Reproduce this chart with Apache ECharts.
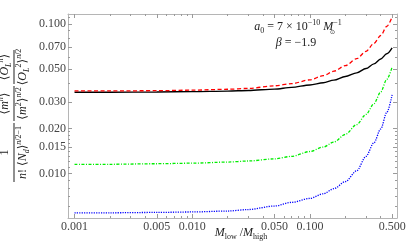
<!DOCTYPE html>
<html>
<head>
<meta charset="utf-8">
<script src="https://cdn.jsdelivr.net/npm/echarts@6/dist/echarts.min.js"></script>
<style>
html,body{margin:0;padding:0;background:#fff;}
#chart{width:407px;height:250px;}
</style>
</head>
<body>
<div id="chart"></div>
<script>
// ---- data ----
const xValues = [0.001, 0.002, 0.005, 0.01, 0.02, 0.03, 0.05, 0.07, 0.1, 0.13, 0.16, 0.2, 0.25, 0.3, 0.35, 0.4, 0.45, 0.5];
const blackSolid = [0.0349, 0.0349, 0.0350, 0.0352, 0.0355, 0.0358, 0.0366, 0.0376, 0.0390, 0.0404, 0.0420, 0.0444, 0.0470, 0.0502, 0.0540, 0.0582, 0.0630, 0.0690];
const redDashed = [0.0356, 0.0356, 0.0357, 0.0360, 0.0365, 0.0370, 0.0385, 0.0398, 0.0422, 0.0450, 0.0482, 0.0525, 0.0585, 0.0655, 0.0740, 0.0835, 0.0960, 0.1110];
const greenDotDashed = [0.0115, 0.0115, 0.0116, 0.0117, 0.0119, 0.0121, 0.0125, 0.0130, 0.0140, 0.0150, 0.0162, 0.0182, 0.0212, 0.0248, 0.0292, 0.0350, 0.0425, 0.0515];
const blueDotted = [0.00544, 0.00545, 0.00548, 0.00552, 0.00560, 0.00573, 0.00605, 0.00640, 0.00680, 0.00730, 0.00790, 0.00880, 0.01040, 0.01300, 0.01600, 0.01980, 0.02550, 0.03350];

const xMajorTicks = [0.001, 0.005, 0.01, 0.05, 0.1, 0.5];
const xMinorTicks = [0.002, 0.003, 0.004, 0.006, 0.007, 0.008, 0.009, 0.02, 0.03, 0.04, 0.06, 0.07, 0.08, 0.09, 0.2, 0.3, 0.4];
const yMajorTicks = [0.01, 0.015, 0.02, 0.03, 0.05, 0.07, 0.1];
const yMinorTicks = [0.006, 0.007, 0.008, 0.009, 0.011, 0.012, 0.013, 0.014, 0.016, 0.017, 0.018, 0.019, 0.04, 0.06, 0.08, 0.09, 0.11];

const xMin = 0.00088, xMax = 0.55;
const yMin = 0.00503, yMax = 0.1163;

const SERIF = '"Liberation Serif", "DejaVu Serif", serif';
const FRAME = '#b5b5b5';
const TICK = '#9a9a9a';
const LABEL = '#444';

function pairs(ys) { return xValues.map((x, i) => [x, ys[i]]); }

function xAxisDef(pos, ticks, len, labels, line) {
  return {
    type: 'log', logBase: 10, min: xMin, max: xMax, position: pos, gridIndex: 0,
    axisLine: { show: line, onZero: false, lineStyle: { color: FRAME, width: 1 } },
    axisTick: { show: true, inside: true, length: len, customValues: ticks, lineStyle: { color: TICK, width: 1 } },
    axisLabel: labels ? { show: true, customValues: ticks, formatter: v => Number(v).toFixed(3), margin: 3,
      fontFamily: SERIF, fontSize: 12, color: LABEL } : { show: false },
    splitLine: { show: false }, minorTick: { show: false }
  };
}
function yAxisDef(pos, ticks, len, labels, line) {
  return {
    type: 'log', logBase: 10, min: yMin, max: yMax, position: pos, gridIndex: 0,
    axisLine: { show: line, onZero: false, lineStyle: { color: FRAME, width: 1 } },
    axisTick: { show: true, inside: true, length: len, customValues: ticks, lineStyle: { color: TICK, width: 1 } },
    axisLabel: labels ? { show: true, customValues: ticks, formatter: v => Number(v).toFixed(3), margin: 2,
      fontFamily: SERIF, fontSize: 12, color: LABEL } : { show: false },
    splitLine: { show: false }, minorTick: { show: false }
  };
}

const chart = echarts.init(document.getElementById('chart'), null, { renderer: 'canvas' });

const mathRich = {
  i: { fontFamily: SERIF, fontSize: 12, fontStyle: 'italic', lineHeight: 16, verticalAlign: 'middle' },
  r: { fontFamily: SERIF, fontSize: 12, lineHeight: 16, verticalAlign: 'middle' },
  sup: { fontFamily: SERIF, fontSize: 8, fontStyle: 'italic', lineHeight: 9, verticalAlign: 'top' },
  supr: { fontFamily: SERIF, fontSize: 8, lineHeight: 9, verticalAlign: 'top' },
  sub: { fontFamily: SERIF, fontSize: 8, fontStyle: 'italic', lineHeight: 9, verticalAlign: 'bottom' },
  subr: { fontFamily: SERIF, fontSize: 8, lineHeight: 9, verticalAlign: 'bottom' }
};
function mtext(x, y, text, align, valign, extra) {
  return Object.assign({
    type: 'text', x: x, y: y,
    style: { text: text, rich: mathRich, fontFamily: SERIF, fontSize: 12, fill: '#222', align: align, verticalAlign: valign }
  }, extra || {});
}
function bar(x0, x1) {
  return { type: 'rect', shape: { x: x0, y: -0.5, width: x1 - x0, height: 1 }, style: { fill: '#222' } };
}

const option = {
  animation: false,
  backgroundColor: '#fff',
  grid: { left: 68, top: 14, right: 10, bottom: 32, containLabel: false, outerBoundsMode: 'none' },
  xAxis: [
    xAxisDef('bottom', xMajorTicks, 4, true, true),
    xAxisDef('bottom', xMinorTicks, 2, false, false),
    xAxisDef('top', xMajorTicks, 4, false, true),
    xAxisDef('top', xMinorTicks, 2, false, false)
  ],
  yAxis: [
    yAxisDef('left', yMajorTicks, 4, true, true),
    yAxisDef('left', yMinorTicks, 2, false, false),
    yAxisDef('right', yMajorTicks, 4, false, true),
    yAxisDef('right', yMinorTicks, 2, false, false)
  ],
  series: [
    { name: 'black', type: 'line', data: pairs(blackSolid), showSymbol: false, smooth: 0.3, smoothMonotone: 'x',
      lineStyle: { color: '#000', width: 1.4, type: 'solid' }, z: 2 },
    { name: 'red', type: 'line', data: pairs(redDashed), showSymbol: false, smooth: 0.3, smoothMonotone: 'x',
      lineStyle: { color: '#ff0000', width: 1.3, type: [4, 2.5] }, z: 3 },
    { name: 'green', type: 'line', data: pairs(greenDotDashed), showSymbol: false, smooth: 0.3, smoothMonotone: 'x',
      lineStyle: { color: '#00ee00', width: 1.3, type: [3, 1.5, 1, 1.5] }, z: 3 },
    { name: 'blue', type: 'line', data: pairs(blueDotted), showSymbol: false, smooth: 0.3, smoothMonotone: 'x',
      lineStyle: { color: '#0000ff', width: 1.3, type: [1.2, 1.2] }, z: 3 }
  ],
  graphic: [
    // y-axis title (three stacked fractions, rotated)
    { type: 'group', x: 14, y: 182, rotation: Math.PI / 2, children: [
      bar(0, 59),
      mtext(29.5, -1, '{r|1}', 'center', 'bottom'),
      mtext(29.5, 1, '{i|n}{r|! ⟨}{i|N}{sub|d}{r|⟩}{sup|n}{supr|/2−1}', 'center', 'top'),
      bar(61, 96),
      mtext(78.5, -1, '{r|⟨}{i|m}{sup|n}{r|⟩}', 'center', 'bottom'),
      mtext(78.5, 1, '{r|⟨}{i|m}{supr|2}{r|⟩}{sup|n}{supr|/2}', 'center', 'top'),
      bar(98, 132),
      mtext(115, -1, '{r|⟨}{i|O}{sub|L}{sup|n}{r|⟩}', 'center', 'bottom'),
      mtext(115, 1, '{r|⟨}{i|O}{sub|L}{supr|2}{r|⟩}{sup|n}{supr|/2}', 'center', 'top')
    ]},
    // annotation
    mtext(298, 27, '{i|a}{subr|0}{r| = 7 × 10}{supr|−10}{r| }{i|M}{supr|−1}', 'center', 'middle'),
    { type: 'text', x: 332.5, y: 32, style: { text: '⊙', fontFamily: '"DejaVu Sans", sans-serif', fontSize: 6, fill: '#222', align: 'center', verticalAlign: 'middle' } },
    mtext(296, 43, '{i|β}{r| = −1.9}', 'center', 'middle'),
    // x-axis title
    mtext(241, 233, '{i|M}{subr|low}{r| /}{i|M}{subr|high}', 'center', 'middle')
  ]
};
chart.setOption(option);
</script>
</body>
</html>
